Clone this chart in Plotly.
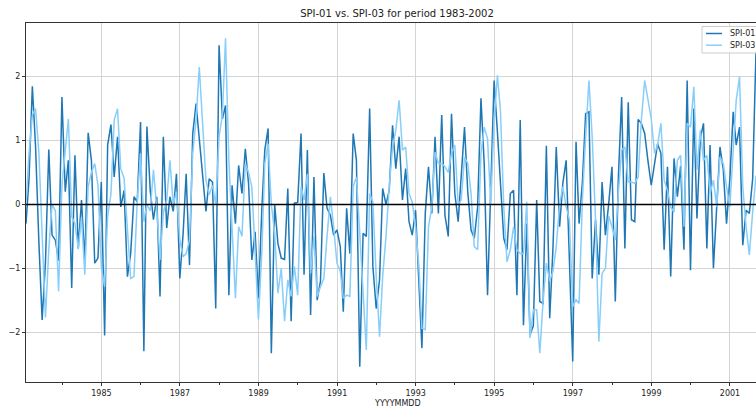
import pandas as pd
import plotly.graph_objects as go

# Monthly SPI values, one row per year (Jan..Dec), starting January 1983
start_month = "1983-01-01"

spi01 = [
    -0.30, 0.40, 1.85, 0.90, -0.60, -1.81, -0.90, 0.86, -0.48, -0.56, -0.88, 1.68,
    0.20, 0.69, -1.31, 0.77, -0.69, 0.07, -0.90, 1.12, 0.69, -0.92, -0.84, 0.35,
    -2.05, 0.93, 1.25, 0.43, 1.06, -0.04, 0.22, -1.13, -0.77, 0.12, 0.04, 1.29,
    -2.30, 1.22, 0.22, -0.24, 0.12, -1.44, 1.06, -0.37, 0.12, -0.11, 0.48, -1.16,
    -0.45, 0.48, -0.95, 1.10, 1.58, 1.00, 0.38, -0.11, 0.40, 0.35, -1.63, 2.49,
    1.34, 1.55, -1.42, 0.30, -0.30, 0.61, 0.17, 0.87, 0.33, -0.87, -0.43, -1.47,
    -0.10, 0.85, 1.19, -2.33, 0.00, -0.61, -0.84, -0.86, 0.25, -1.83, 0.02, 0.03,
    1.11, -1.10, 0.85, -1.73, 0.43, -1.50, -1.20, 0.49, -0.06, -0.17, -0.48, -0.40,
    -0.66, -1.68, -0.06, -0.77, 1.11, 0.69, -2.54, -0.45, -0.50, 1.50, -0.97, -1.63,
    -1.18, 0.25, 0.00, 0.22, 1.24, 0.56, 1.06, 0.07, 0.56, -0.27, -0.48, -0.09,
    -1.23, -2.25, -0.14, 0.59, -0.14, 1.06, -0.14, 1.40, -0.17, -0.50, 1.42, 0.17,
    -0.27, 0.41, 1.21, 0.20, -0.40, -0.53, -0.04, 1.66, 0.64, -1.42, 0.43, 1.94,
    1.13, 0.28, -0.53, -0.71, 0.17, 0.22, -1.42, 1.32, -1.89, -0.30, -2.04, -1.90,
    0.07, -1.52, -1.55, 0.92, -1.78, -0.70, 0.90, -0.35, 0.33, 0.69, -0.90, -2.46,
    0.98, -0.30, 0.35, 1.42, 1.45, -1.16, -0.24, -1.10, 0.35, -0.48, 0.00, 0.59,
    -1.52, 0.40, 1.68, -0.69, 1.60, -0.24, -0.27, 1.33, 1.27, 1.11, 0.69, 0.30,
    0.64, 0.95, 0.80, -0.71, 0.59, -1.13, 0.72, 0.12, 0.60, -0.71, 1.94, -1.03,
    1.50, -0.22, 1.03, 1.27, -0.69, 0.93, -1.00, -0.05, 0.90, 0.54, -0.30, 0.40,
    1.45, 0.93, 1.21, -0.64, -0.09, -0.14, 0.40, 2.40,
]

spi03 = [
    0.00, 0.80, 1.40, 1.50, 0.80, -0.60, -1.77, -0.70, 0.00, -0.10, -1.36, 0.30,
    0.90, 1.34, -0.19, -0.30, -0.70, -0.20, -1.10, 0.28, 0.50, 0.64, 0.30, -0.97,
    -1.29, -0.19, 0.17, 1.32, 1.50, 0.56, 0.41, -0.35, -1.16, -1.13, 0.05, 0.80,
    -0.27, 0.00, -0.10, 0.54, -0.08, -0.87, -0.13, 0.07, 0.69, 0.00, 0.20, -0.56,
    -0.82, -0.77, -0.56, 0.80, 1.32, 2.15, 1.27, 0.38, 0.15, 0.30, 0.00, 1.06,
    1.40, 2.60, 0.69, -0.35, -1.47, -0.35, -0.50, 0.64, 0.50, 0.27, -0.87, -1.80,
    -0.77, 0.64, 0.95, 0.00, -0.45, -1.39, -1.00, -1.83, -1.18, -1.44, -0.97, -1.42,
    0.28, 0.07, 0.48, -1.08, -0.50, -1.44, -1.29, -1.16, -0.50, 0.12, -0.35, -0.92,
    -1.05, -1.47, -1.42, -1.44, 0.28, 0.43, -0.45, -1.29, -2.28, 0.17, 0.04, -1.13,
    -2.07, -1.13, -0.50, 0.28, 0.90, 1.16, 1.63, 0.85, 0.90, 0.17, 0.04, -0.35,
    -0.97, -1.94, -1.96, -0.35, -0.04, 0.82, 0.64, 0.64, 0.59, 0.50, 0.80, 0.93,
    0.00, 0.07, 0.74, 0.64, 0.17, -0.66, -0.71, 0.80, 1.21, 1.03, 0.00, 1.32,
    2.02, 1.47, -0.04, -0.90, -0.71, -0.35, -0.71, -0.77, -0.77, 0.04, -2.09, -1.65,
    -1.65, -2.33, -1.50, -0.92, -1.20, -1.05, -0.66, 0.00, 0.28, -0.04, -0.24, -1.60,
    -1.49, -1.55, 0.07, 1.06, 1.94, 1.06, -0.24, -2.15, -1.08, -1.00, -0.18, -0.35,
    -0.56, 0.17, 0.85, 0.90, 0.35, 0.35, 0.33, 0.43, 1.32, 1.94, 1.63, 1.34,
    0.80, 0.93, 1.27, 0.38, 0.22, -0.04, -0.12, 0.69, 0.77, -0.35, 1.27, 1.21,
    1.84, 0.54, 1.16, 0.69, 0.77, 0.17, 0.38, -0.04, 0.74, 0.64, 0.28, -0.04,
    0.85, 1.63, 2.00, 0.28, -0.35, -0.79, -0.12, 0.45,
]

series_names = ["SPI-01", "SPI-03"]
series_colors = ["#1f77b4", "#87cefa"]

major_years = list(range(1985, 2002, 2))
minor_years = list(range(1984, 2002, 2))
y_ticks = [-2, -1, 0, 1, 2]

# month-end dates (YYYYMMDD index)
months = pd.date_range(start_month, periods=len(spi01), freq="MS") + pd.offsets.MonthEnd(0)

W, H = 756, 410
L, R, T, B = 26, 0, 23, 28
PW, PH = W - L - R, H - T - B
FONT = "DejaVu Sans"
AXIS_COLOR = "#333333"
GRID_COLOR = "#d4d4d4"


def px_x(px):
    return (px - L) / PW


def px_y(py):
    return (H - B - py) / PH


fig = go.Figure()
for name, vals, col in zip(series_names, [spi01, spi03], series_colors):
    fig.add_trace(go.Scatter(
        x=months, y=vals, mode="lines", name=name,
        line=dict(color=col, width=1.5), showlegend=False,
    ))

# horizontal reference line at zero
fig.add_shape(type="line", xref="paper", x0=0, x1=1, yref="y", y0=0, y1=0,
              line=dict(color="black", width=1.5), layer="above")

# legend box in the upper right corner
box_l, box_t, box_b = 702, 26.5, 53
fig.add_shape(type="rect", xref="paper", yref="paper",
              x0=px_x(box_l), x1=px_x(box_l + 70), y0=px_y(box_b), y1=px_y(box_t),
              line=dict(color="#cccccc", width=1), fillcolor="rgba(255,255,255,0.85)",
              layer="above")
for k, (name, col) in enumerate(zip(series_names, series_colors)):
    yy = px_y(33.5 + k * 11.7)
    fig.add_shape(type="line", xref="paper", yref="paper",
                  x0=px_x(706), x1=px_x(722), y0=yy, y1=yy,
                  line=dict(color=col, width=1.5), layer="above")
    fig.add_annotation(text=name, xref="paper", yref="paper", x=px_x(728), y=yy,
                       xanchor="left", yanchor="middle", showarrow=False,
                       font=dict(family=FONT, size=8, color="#222222"))

# x axis label, centred under the full axes span
fig.add_annotation(text="YYYYMMDD", xref="paper", yref="paper",
                   x=px_x(397), y=px_y(403), xanchor="center", yanchor="middle",
                   showarrow=False, font=dict(family=FONT, size=8, color="#222222"))

fig.update_layout(
    width=W, height=H,
    margin=dict(l=L, r=R, t=T, b=B, pad=0, autoexpand=False),
    paper_bgcolor="white", plot_bgcolor="white",
    showlegend=False,
    title=dict(text="SPI-01 vs. SPI-03 for period 1983-2002", xref="container",
               x=397 / W, xanchor="center", y=1 - 13.5 / H, yanchor="middle",
               font=dict(family=FONT, size=10, color="#222222")),
    xaxis=dict(
        type="date", range=["1983-01-31", "2001-08-31"],
        tickmode="array",
        tickvals=[f"{y}-01-01" for y in major_years],
        ticktext=[str(y) for y in major_years],
        ticks="outside", ticklen=3, tickwidth=1, tickcolor=AXIS_COLOR,
        tickfont=dict(family=FONT, size=8, color="#222222"),
        showgrid=True, gridcolor=GRID_COLOR, gridwidth=1,
        showline=True, linecolor=AXIS_COLOR, linewidth=1, mirror=True,
        zeroline=False,
        minor=dict(tickmode="array", tickvals=[f"{y}-01-01" for y in minor_years],
                   ticks="outside", ticklen=2, tickcolor=AXIS_COLOR, showgrid=False),
    ),
    yaxis=dict(
        range=[-2.78, 2.84],
        tickmode="array", tickvals=y_ticks,
        ticks="outside", ticklen=3, tickwidth=1, tickcolor=AXIS_COLOR,
        tickfont=dict(family=FONT, size=8, color="#222222"),
        showgrid=True, gridcolor=GRID_COLOR, gridwidth=1,
        showline=True, linecolor=AXIS_COLOR, linewidth=1, mirror=False,
        zeroline=False,
    ),
)

fig.write_html("out.html")
